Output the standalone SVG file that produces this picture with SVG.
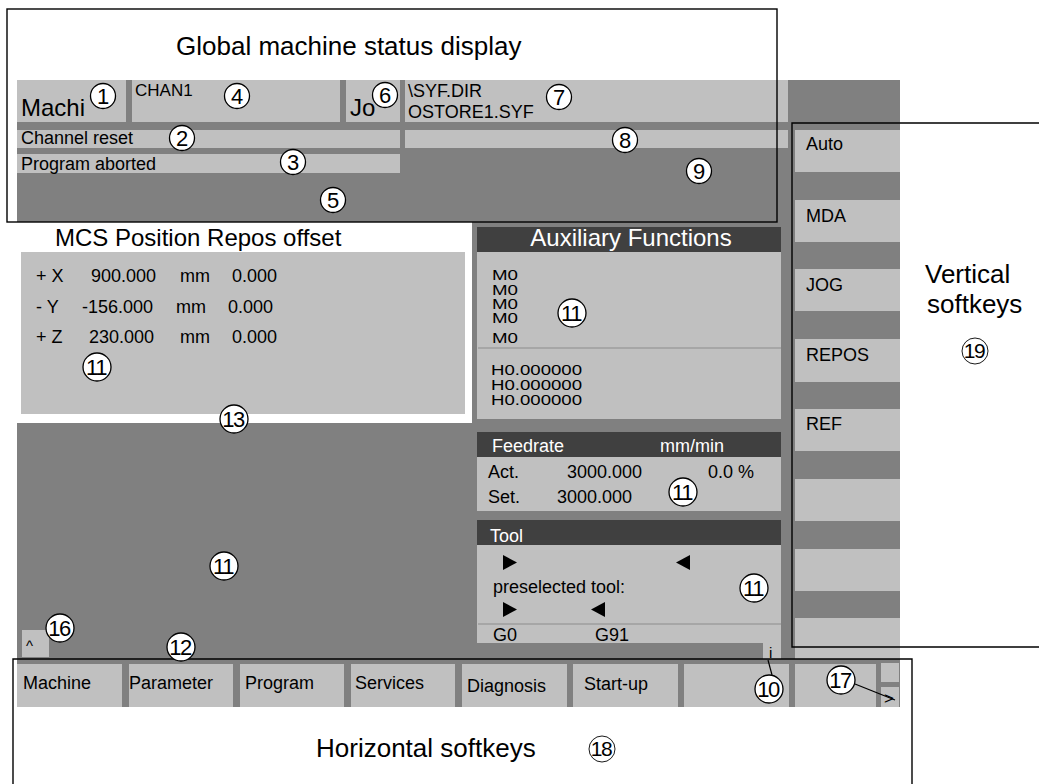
<svg xmlns="http://www.w3.org/2000/svg" width="1039" height="784" viewBox="0 0 1039 784">
<style>
text{font-family:"Liberation Sans",Arial,Helvetica,sans-serif;fill:#000}
.s{font-size:18px}
.m{font-size:17px}
.n{font-size:15.5px}
.L{font-size:24px}
.h{font-size:24px}
.H{font-size:26px}
.w{fill:#fff}
.lg{fill:#c0c0c0}
.mg{fill:#808080}
.dg{fill:#404040}
.frame{fill:none;stroke:#000;stroke-width:1.4}
.sep{stroke:#8c8c8c;stroke-width:1.2}
.co circle{fill:#fff;stroke:#000;stroke-width:1.3}
.co text{font-size:22px;text-anchor:middle}
.co2 text{letter-spacing:-1.5px}
.thin circle{fill:none;stroke:#000;stroke-width:0.9}
.thin text{font-size:21px;text-anchor:middle;letter-spacing:-1.5px}
.lead{stroke:#000;stroke-width:1.2;fill:none}
</style>

<!-- screen background -->
<rect id="screen" class="mg" x="17" y="80" width="883" height="627"/>

<g id="status-row1">
  <rect class="lg" x="17" y="80" width="109" height="42"/>
  <text class="L" x="21" y="116">Machi</text>
  <rect class="lg" x="132" y="80" width="208" height="42"/>
  <text class="m" x="135" y="96">CHAN1</text>
  <rect class="lg" x="346" y="80" width="54" height="42"/>
  <text class="L" x="350" y="116">Jo</text>
  <rect class="lg" x="405" y="80" width="383" height="42"/>
  <text class="s" x="408" y="97">\SYF.DIR</text>
  <text class="s" x="408" y="118">OSTORE1.SYF</text>
</g>
<g id="status-row2">
  <rect class="lg" x="17" y="130" width="383" height="18"/>
  <text class="s" x="21" y="144">Channel reset</text>
  <rect class="lg" x="405" y="130" width="383" height="18"/>
</g>
<g id="status-row3">
  <rect class="lg" x="17" y="154" width="383" height="19"/>
  <text class="s" x="21" y="170">Program aborted</text>
</g>

<g id="mcs">
  <rect fill="#fff" x="17" y="222" width="455" height="201"/>
  <text class="h" x="55" y="246">MCS Position Repos offset</text>
  <rect class="lg" x="21" y="252" width="444" height="162"/>
  <text class="s" x="36" y="282">+ X</text>
  <text class="s" x="91" y="282">900.000</text>
  <text class="s" x="180" y="282">mm</text>
  <text class="s" x="232" y="282">0.000</text>
  <text class="s" x="36" y="313">- Y</text>
  <text class="s" x="82" y="313">-156.000</text>
  <text class="s" x="176" y="313">mm</text>
  <text class="s" x="228" y="313">0.000</text>
  <text class="s" x="36" y="343">+ Z</text>
  <text class="s" x="89" y="343">230.000</text>
  <text class="s" x="180" y="343">mm</text>
  <text class="s" x="232" y="343">0.000</text>
</g>

<g id="aux">
  <rect class="dg" x="477" y="227" width="304" height="25"/>
  <text class="h w" x="631" y="246" text-anchor="middle">Auxiliary Functions</text>
  <rect class="lg" x="477" y="252" width="304" height="167"/>
  <line class="sep" x1="478" y1="348" x2="781" y2="348"/>
  <text class="n" x="492" y="280" textLength="26" lengthAdjust="spacingAndGlyphs">M0</text>
  <text class="n" x="492" y="295" textLength="26" lengthAdjust="spacingAndGlyphs">M0</text>
  <text class="n" x="492" y="309" textLength="26" lengthAdjust="spacingAndGlyphs">M0</text>
  <text class="n" x="492" y="323" textLength="26" lengthAdjust="spacingAndGlyphs">M0</text>
  <text class="n" x="492" y="343" textLength="26" lengthAdjust="spacingAndGlyphs">M0</text>
  <text class="n" x="491" y="375" textLength="91" lengthAdjust="spacingAndGlyphs">H0.000000</text>
  <text class="n" x="491" y="390" textLength="91" lengthAdjust="spacingAndGlyphs">H0.000000</text>
  <text class="n" x="491" y="405" textLength="91" lengthAdjust="spacingAndGlyphs">H0.000000</text>
</g>

<g id="feedrate">
  <rect class="dg" x="477" y="432" width="304" height="25"/>
  <text class="s w" x="492" y="452">Feedrate</text>
  <text class="s w" x="660" y="452">mm/min</text>
  <rect class="lg" x="477" y="457" width="304" height="54"/>
  <text class="s" x="488" y="478">Act.</text>
  <text class="s" x="567" y="478">3000.000</text>
  <text class="s" x="708" y="478">0.0 %</text>
  <text class="s" x="488" y="503">Set.</text>
  <text class="s" x="557" y="503">3000.000</text>
</g>

<g id="tool">
  <rect class="dg" x="477" y="520" width="304" height="25"/>
  <text class="s w" x="490" y="542">Tool</text>
  <rect class="lg" x="477" y="545" width="304" height="98"/>
  <line class="sep" x1="478" y1="624" x2="781" y2="624"/>
  <polygon points="503,555 517,562.5 503,570"/>
  <polygon points="690,555 676,562.5 690,570"/>
  <text class="s" x="493" y="593">preselected tool:</text>
  <polygon points="503,602 517,609.5 503,617"/>
  <polygon points="605,602 591,609.5 605,617"/>
  <text class="s" x="493" y="641">G0</text>
  <text class="s" x="595" y="641">G91</text>
</g>

<g id="info-box">
  <rect class="lg" x="763" y="643" width="18" height="20"/>
  <text font-size="15" x="769" y="658">i</text>
</g>

<g id="scroll-up">
  <rect class="lg" x="22" y="630" width="27" height="27"/>
  <text font-size="15" x="26" y="651">^</text>
</g>

<g id="vertical-softkeys">
  <rect class="lg" x="795" y="130" width="105" height="42"/>
  <text class="s" x="806" y="150">Auto</text>
  <rect class="lg" x="795" y="200" width="105" height="42"/>
  <text class="s" x="806" y="222">MDA</text>
  <rect class="lg" x="795" y="269" width="105" height="42"/>
  <text class="s" x="806" y="291">JOG</text>
  <rect class="lg" x="795" y="339" width="105" height="43"/>
  <text class="s" x="806" y="361">REPOS</text>
  <rect class="lg" x="795" y="409" width="105" height="42"/>
  <text class="s" x="806" y="430">REF</text>
  <rect class="lg" x="795" y="479" width="105" height="42"/>
  <rect class="lg" x="795" y="549" width="105" height="42"/>
  <rect class="lg" x="795" y="618" width="105" height="41"/>
</g>

<g id="horizontal-softkeys">
  <rect class="mg" x="17" y="659" width="883" height="48"/>
  <rect class="lg" x="17" y="664" width="105" height="43"/>
  <text class="s" x="23" y="689">Machine</text>
  <rect class="lg" x="129" y="664" width="104" height="43"/>
  <text class="s" x="129" y="689">Parameter</text>
  <rect class="lg" x="240" y="664" width="104" height="43"/>
  <text class="s" x="245" y="689">Program</text>
  <rect class="lg" x="351" y="664" width="104" height="43"/>
  <text class="s" x="355" y="689">Services</text>
  <rect class="lg" x="462" y="664" width="105" height="43"/>
  <text class="s" x="467" y="692">Diagnosis</text>
  <rect class="lg" x="573" y="664" width="105" height="43"/>
  <text class="s" x="584" y="690">Start-up</text>
  <rect class="lg" x="684" y="664" width="105" height="43"/>
  <rect class="lg" x="795" y="664" width="81" height="43"/>
  <rect class="lg" x="881" y="663" width="18" height="19"/>
  <rect class="lg" x="881" y="687" width="18" height="20"/>
  <text font-size="17" x="884" y="704">&gt;</text>
</g>

<g id="labels">
  <rect class="frame" x="7" y="9" width="770" height="213"/>
  <text class="H" x="176" y="55">Global machine status display</text>
  <polyline class="frame" points="1039,123 792,123 792,647 1039,647"/>
  <text class="H" x="925" y="283">Vertical</text>
  <text class="H" x="927" y="313">softkeys</text>
  <polyline class="frame" points="13,784 13,659 912,659 912,784"/>
  <text class="H" x="316" y="757">Horizontal softkeys</text>
</g>

<g id="connectors">
  <line class="lead" x1="768" y1="660" x2="772" y2="675"/>
  <line class="lead" x1="855" y1="684" x2="895" y2="700"/>
</g>

<g id="callouts" class="co">
  <g id="c1"><circle cx="103" cy="96" r="12.5"/><text x="103" y="104">1</text></g>
  <g id="c2"><circle cx="182" cy="138" r="12.5"/><text x="182" y="146">2</text></g>
  <g id="c3"><circle cx="293" cy="162" r="12.5"/><text x="293" y="170">3</text></g>
  <g id="c4"><circle cx="237" cy="96" r="12.5"/><text x="237" y="104">4</text></g>
  <g id="c5"><circle cx="333" cy="200" r="12.5"/><text x="333" y="208">5</text></g>
  <g id="c6"><circle cx="385" cy="95" r="12.5"/><text x="385" y="103">6</text></g>
  <g id="c7"><circle cx="559" cy="97" r="12.5"/><text x="559" y="105">7</text></g>
  <g id="c8"><circle cx="625" cy="140" r="12.5"/><text x="625" y="148">8</text></g>
  <g id="c9"><circle cx="699" cy="171" r="12.5"/><text x="699" y="179">9</text></g>
  <g class="co2">
    <g id="c10"><circle cx="769" cy="689" r="14"/><text x="768" y="697">10</text></g>
    <g id="c11a"><circle cx="97" cy="367" r="14"/><text x="96" y="375">11</text></g>
    <g id="c11b"><circle cx="572" cy="313" r="14"/><text x="571" y="321">11</text></g>
    <g id="c11c"><circle cx="683" cy="492" r="14"/><text x="682" y="500">11</text></g>
    <g id="c11d"><circle cx="754" cy="588" r="14"/><text x="753" y="596">11</text></g>
    <g id="c11e"><circle cx="224" cy="566" r="14"/><text x="223" y="574">11</text></g>
    <g id="c12"><circle cx="181" cy="647" r="14"/><text x="180" y="655">12</text></g>
    <g id="c13"><circle cx="234" cy="419" r="14"/><text x="233" y="427">13</text></g>
    <g id="c16"><circle cx="60" cy="628" r="14"/><text x="59" y="636">16</text></g>
    <g id="c17"><circle cx="841" cy="680" r="14"/><text x="840" y="688">17</text></g>
  </g>
</g>
<g class="thin">
  <g id="c18"><circle cx="602" cy="749" r="13"/><text x="601" y="756">18</text></g>
  <g id="c19"><circle cx="975" cy="351" r="13"/><text x="974" y="358">19</text></g>
</g>
</svg>
